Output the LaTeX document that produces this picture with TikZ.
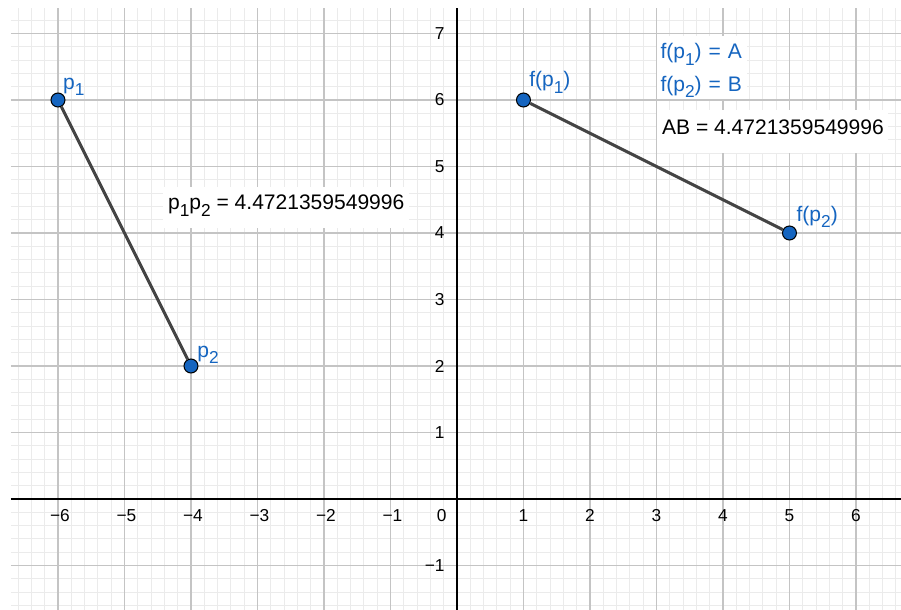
\documentclass[tikz,border=0pt]{standalone}
\usepackage{fontspec}
\setmainfont{Liberation Sans}
\usetikzlibrary{positioning}
\definecolor{ggblue}{HTML}{1565C0}
\definecolor{majorgrid}{HTML}{C4C4C4}
\definecolor{minorgrid}{HTML}{EBEBEB}
\definecolor{segcol}{HTML}{444444}
\newcommand{\lo}[1]{\raisebox{-0.3em}{\fontsize{7.4}{8}\selectfont #1}}
\tikzset{
  ptdot/.style={circle,draw=black,line width=0.45pt,fill=ggblue,minimum size=2.1mm,inner sep=0pt},
  seg/.style={draw=segcol,line width=1.3pt},
  ptlabel/.style={text=ggblue,font=\fontsize{9}{10}\selectfont,inner sep=0pt,anchor=base west},
  mapbox/.style={ptlabel,fill=white,inner xsep=1.3pt,text width=1.25cm,align=left},
  valbox/.style={fill=white,font=\fontsize{9}{10}\selectfont,inner xsep=2pt,inner ysep=0pt,text height=10pt,text depth=7.7pt,anchor=base west},
  ticklab/.style={font=\fontsize{7.4}{8}\selectfont,inner sep=0pt}
}

\begin{document}
\begin{tikzpicture}
\useasboundingbox (-6.872,-1.669) rectangle (6.677,7.504);

% grid
\draw[minorgrid,line width=0.45pt,step=0.2] (-6.707,-1.669) grid (6.677,7.383);
\draw[majorgrid,line width=0.45pt,step=1] (-6.707,-1.669) grid (6.677,7.383);

% axes
\draw[black,line width=0.65pt] (-6.707,0) -- (6.677,0);
\draw[black,line width=0.65pt] (0,-1.669) -- (0,7.383);

% tick labels
\foreach \x in {1,...,6} {
  \node[ticklab] at (\x,-0.245) {\x};
  \node[ticklab] at (-\x+0.03,-0.245) {−\x};
}
\node[ticklab,anchor=east] at (-0.15,-0.245) {0};
\foreach \y in {1,...,7}
  \node[ticklab,anchor=east] at (-0.18,\y) {\y};
\node[ticklab,anchor=east] at (-0.18,-1) {−1};

% points and segments
\node[ptdot] (p1) at (-6,6) {};
\node[ptdot] (p2) at (-4,2) {};
\node[ptdot] (fp1) at (1,6) {};
\node[ptdot] (fp2) at (5,4) {};
\draw[seg] (p1) -- (p2);
\draw[seg] (fp1) -- (fp2);

% point labels
\node[ptlabel] (p1lab) at (-5.93,6.16) {p\lo{1}};
\node[ptlabel] (p2lab) at (-3.91,2.13) {p\lo{2}};
\node[ptlabel] (fp1lab) at (1.08,6.20) {f(p\lo{1})};
\node[ptlabel] (fp2lab) at (5.10,4.18) {f(p\lo{2})};

% mapping text
\node[mapbox,text height=10pt,text depth=6.8pt] (mapA) at (3.008,6.617) {f(p\lo{1}) = A};
\node[mapbox,text height=6.8pt,text depth=3.6pt] (mapB) at (3.008,6.135) {f(p\lo{2}) = B};

% distances
\node[valbox] (dist) at (-4.421,4.346) {p\lo{1}p\lo{2} = 4.4721359549996};
\node[valbox,text height=10.5pt] (distAB) at (3.008,5.474) {AB = 4.4721359549996};
\end{tikzpicture}
\end{document}
